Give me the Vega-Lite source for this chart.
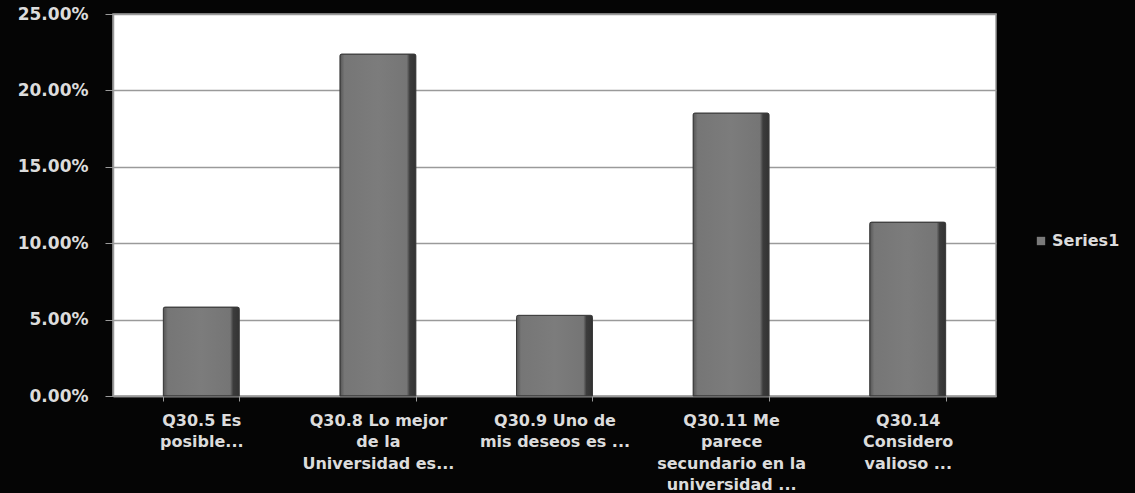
{
  "$schema": "https://vega.github.io/schema/vega-lite/v6.json",
  "autosize": {"type": "none"},
  "padding": {"left": 113, "top": 14, "right": 139, "bottom": 97},
  "width": 883,
  "height": 382,
  "background": "#050505",
  "config": {
    "view": {"fill": "#ffffff", "stroke": "#9a9a9a", "strokeWidth": 1.5},
    "font": "DejaVu Sans"
  },
  "data": {
    "values": [
      {"question": "Q30.5 Es|posible...", "value": 0.0582, "series": "Series1"},
      {"question": "Q30.8 Lo mejor|de la|Universidad es...", "value": 0.2238, "series": "Series1"},
      {"question": "Q30.9  Uno de|mis deseos es ...", "value": 0.0528, "series": "Series1"},
      {"question": "Q30.11 Me|parece|secundario en la|universidad ...", "value": 0.1852, "series": "Series1"},
      {"question": "Q30.14|Considero|valioso ...", "value": 0.1138, "series": "Series1"}
    ]
  },
  "encoding": {
    "x": {
      "field": "question",
      "type": "nominal",
      "sort": null,
      "scale": {"paddingInner": 0.57, "paddingOuter": 0.285},
      "axis": {
        "title": null,
        "labelAngle": 0,
        "labelExpr": "split(datum.label, '|')",
        "labelColor": "#dcdcdc",
        "labelFontSize": 16,
        "labelFontWeight": "bold",
        "labelLineHeight": 21.5,
        "labelPadding": 11,
        "labelBaseline": "top",
        "labelLimit": 250,
        "domainColor": "#9a9a9a",
        "domainWidth": 1.5,
        "tickColor": "#9a9a9a",
        "tickSize": 5,
        "tickBand": "extent",
        "grid": false
      }
    },
    "y": {
      "field": "value",
      "type": "quantitative",
      "scale": {"domain": [0, 0.25], "nice": false},
      "axis": {
        "title": null,
        "values": [0, 0.05, 0.1, 0.15, 0.2, 0.25],
        "format": ".2%",
        "labelColor": "#dcdcdc",
        "labelFontSize": 17,
        "labelFontWeight": "bold",
        "labelPadding": 17,
        "domainColor": "#9a9a9a",
        "domainWidth": 1.5,
        "tickColor": "#9a9a9a",
        "tickSize": 8,
        "gridColor": "#9a9a9a",
        "gridWidth": 1.5
      }
    }
  },
  "layer": [
    {
      "mark": {"type": "bar"},
      "encoding": {
        "color": {
          "field": "series",
          "type": "nominal",
          "scale": {"range": ["#7a7a7a"]},
          "legend": {
            "title": null,
            "orient": "none",
            "legendX": 920,
            "legendY": 219,
            "labelColor": "#dcdcdc",
            "labelFontSize": 16,
            "labelFontWeight": "bold",
            "labelOffset": 3,
            "symbolType": "square",
            "symbolSize": 70,
            "symbolStrokeWidth": 0
          }
        }
      }
    },
    {
      "mark": {
        "type": "bar",
        "stroke": "#3a3a3a",
        "strokeWidth": 1,
        "cornerRadiusTopLeft": 2,
        "cornerRadiusTopRight": 2,
        "color": {
          "gradient": "linear",
          "x1": 0, "y1": 0, "x2": 1, "y2": 0,
          "stops": [
            {"offset": 0, "color": "#555555"},
            {"offset": 0.06, "color": "#767676"},
            {"offset": 0.5, "color": "#7c7c7c"},
            {"offset": 0.88, "color": "#757575"},
            {"offset": 0.92, "color": "#3c3c3c"},
            {"offset": 1, "color": "#333333"}
          ]
        }
      }
    }
  ]
}
